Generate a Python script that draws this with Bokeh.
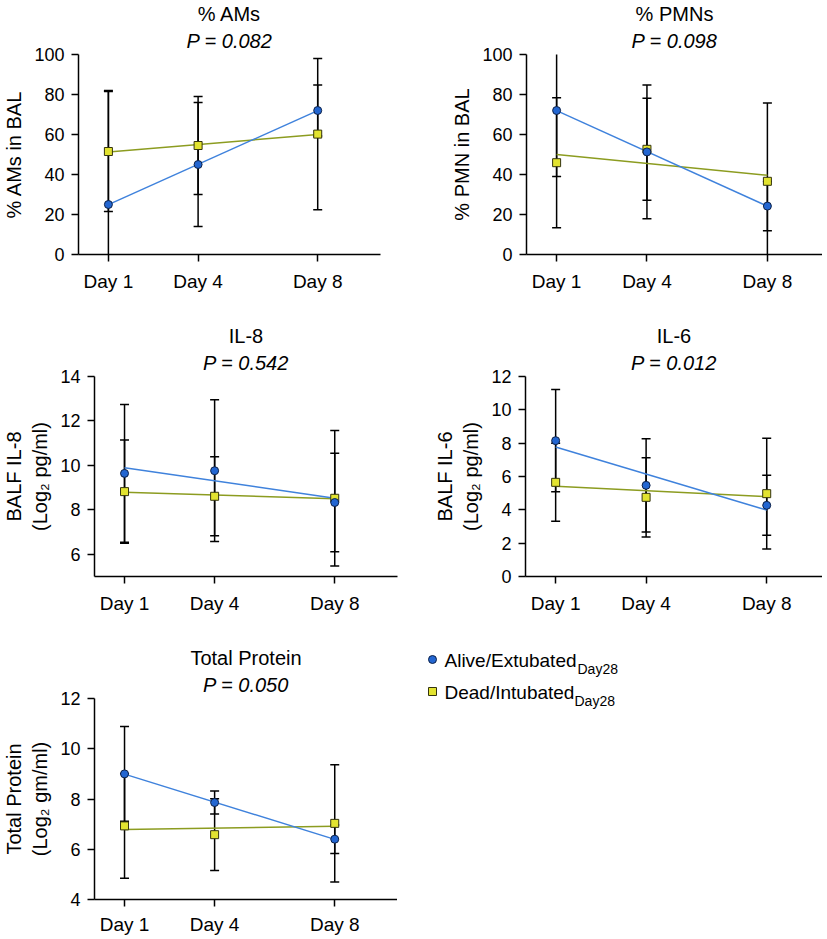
import numpy as np
from bokeh.plotting import figure
from bokeh.models import Range1d, FixedTicker, Title
from bokeh.layouts import row, column
from bokeh.embed import file_html
from bokeh.resources import INLINE
from bokeh.core.properties import value

# ---------------- data ----------------
days = [1, 4, 8]
day_labels = ["Day 1", "Day 4", "Day 8"]

ams_alive = [25.0, 45.0, 72.0]
ams_alive_sd = [57.0, 31.0, 12.7]
ams_dead = [51.5, 54.5, 60.2]
ams_dead_sd = [30.0, 24.5, 37.8]

pmn_alive = [72.0, 51.3, 24.2]
pmn_alive_sd = [33.0, 33.4, 12.3]
pmn_dead = [45.9, 52.6, 36.6]
pmn_dead_sd = [32.5, 25.5, 39.1]

il8_alive = [9.64, 9.76, 8.33]
il8_alive_sd = [3.10, 3.19, 2.22]
il8_dead = [8.82, 8.61, 8.52]
il8_dead_sd = [2.32, 1.78, 3.05]

il6_alive = [8.15, 5.47, 4.27]
il6_alive_sd = [3.07, 2.80, 1.80]
il6_dead = [5.65, 4.75, 4.97]
il6_dead_sd = [2.34, 2.38, 3.32]

prot_alive = [9.00, 7.86, 6.40]
prot_alive_sd = [1.89, 0.46, 0.57]
prot_dead = [6.93, 6.58, 7.03]
prot_dead_sd = [2.08, 1.43, 2.33]

titles = ["% AMs", "% PMNs", "IL-8", "IL-6", "Total Protein"]
pvalues = ["P = 0.082", "P = 0.098", "P = 0.542", "P = 0.012", "P = 0.050"]
ylabels = ["% AMs in BAL", "% PMN in BAL", "BALF IL-8\n(Log\u2082 pg/ml)",
           "BALF IL-6\n(Log\u2082 pg/ml)", "Total Protein\n(Log\u2082 gm/ml)"]
legend_labels = ["Alive/Extubated", "Dead/Intubated"]
legend_sub = "Day28"

# ---------------- style ----------------
FONT = "Liberation Sans"
BLUE_FILL = "#2366d1"
BLUE_EDGE = "#0d2147"
BLUE_LINE = "#3f82dc"
YEL_FILL = "#e2e330"
YEL_EDGE = "#34340e"
YEL_LINE = "#8c9c20"


def no_align(p):
    if "frame_align" in p.properties():
        p.frame_align = False


def make_panel(title, pval, ylabel, alive, alive_sd, dead, dead_sd,
               yr, ytick, xend, fw, fh, bl, bt, bb, br, xstand):
    p = figure(frame_width=fw, frame_height=fh,
               x_range=Range1d(0, xend), y_range=Range1d(*yr),
               output_backend="svg", toolbar_location=None,
               min_border_left=bl, min_border_top=bt,
               min_border_bottom=bb, min_border_right=br)
    no_align(p)
    p.outline_line_color = None
    p.grid.visible = False

    p.xaxis.ticker = FixedTicker(ticks=days)
    p.xaxis.major_label_overrides = {d: l for d, l in zip(days, day_labels)}
    p.yaxis.ticker = FixedTicker(ticks=ytick)
    for ax in (p.xaxis, p.yaxis):
        ax.axis_line_width = 1.5
        ax.axis_line_color = "black"
        ax.major_tick_line_width = 1.5
        ax.major_tick_line_color = "black"
        ax.major_tick_out = 7
        ax.major_tick_in = 0
        ax.minor_tick_out = 0
        ax.minor_tick_in = 0
        ax.major_label_text_font = FONT
        ax.major_label_text_color = "black"
        ax.axis_label_text_font = FONT
        ax.axis_label_text_font_style = "normal"
        ax.axis_label_text_color = "black"
    p.xaxis.major_label_text_font_size = "19px"
    p.yaxis.major_label_text_font_size = "18px"
    p.xaxis.major_label_standoff = xstand
    p.yaxis.major_label_standoff = 7
    p.yaxis.axis_label = ylabel
    p.yaxis.axis_label_text_font_size = "20px"
    p.yaxis.axis_label_standoff = 6

    # error bars (mean +/- SD)
    for m, s in ((dead, dead_sd), (alive, alive_sd)):
        m = np.asarray(m); s = np.asarray(s)
        lo = m - s; hi = m + s
        p.segment(x0=days, y0=lo, x1=days, y1=hi, line_color="black", line_width=1.5)
        p.scatter(days, hi, marker="dash", size=9, line_color="black", line_width=1.5)
        p.scatter(days, lo, marker="dash", size=9, line_color="black", line_width=1.5)

    # fitted trend lines
    xs = [days[0], days[-1]]
    for m, c in ((dead, YEL_LINE), (alive, BLUE_LINE)):
        coef = np.polyfit(days, m, 1)
        p.line(xs, np.polyval(coef, xs), line_color=c, line_width=1.5)

    p.scatter(days, dead, marker="square", size=8, fill_color=YEL_FILL,
              line_color=YEL_EDGE, line_width=1)
    p.scatter(days, alive, marker="circle", size=8, fill_color=BLUE_FILL,
              line_color=BLUE_EDGE, line_width=1)

    p.add_layout(Title(text=pval, align="center", text_font=FONT,
                       text_font_size="20px", text_font_style="italic",
                       text_color="black", standoff=6), "above")
    p.add_layout(Title(text=title, align="center", text_font=FONT,
                       text_font_size="20px", text_font_style="normal",
                       text_color="black", standoff=0), "above")
    return p


t100 = [0, 20, 40, 60, 80, 100]
p1 = make_panel(titles[0], pvalues[0], ylabels[0], ams_alive, ams_alive_sd,
                ams_dead, ams_dead_sd, (0, 100), t100, 10.1,
                302, 200, 72, 51, 46, 10, 9)
p2 = make_panel(titles[1], pvalues[1], ylabels[1], pmn_alive, pmn_alive_sd,
                pmn_dead, pmn_dead_sd, (0, 100), t100, 9.83,
                296, 200, 136, 51, 46, 0, 9)
p3 = make_panel(titles[2], pvalues[2], ylabels[2], il8_alive, il8_alive_sd,
                il8_dead, il8_dead_sd, (5, 14), [6, 8, 10, 12, 14], 10.09,
                303, 200, 88, 76, 46, 8, 9)
p4 = make_panel(titles[3], pvalues[3], ylabels[3], il6_alive, il6_alive_sd,
                il6_dead, il6_dead_sd, (0, 12), [0, 2, 4, 6, 8, 10, 12], 9.85,
                297, 200, 120, 76, 46, 0, 9)
p5 = make_panel(titles[4], pvalues[4], ylabels[4], prot_alive, prot_alive_sd,
                prot_dead, prot_dead_sd, (4, 12), [4, 6, 8, 10, 12], 10.09,
                303, 201, 88, 76, 36, 0, 7)

# legend panel (pixel coordinates measured from its top-left corner)
LW, LH = 424, 300
leg = figure(frame_width=LW, frame_height=LH, x_range=Range1d(0, LW),
             y_range=Range1d(LH, 0), output_backend="svg", toolbar_location=None,
             x_axis_location=None, y_axis_location=None,
             min_border_left=0, min_border_right=0, min_border_top=0,
             min_border_bottom=0)
no_align(leg)
leg.outline_line_color = None
leg.grid.visible = False
leg.scatter([35], [37], marker="circle", size=8, fill_color=BLUE_FILL,
            line_color=BLUE_EDGE, line_width=1)
leg.scatter([35], [69], marker="square", size=8, fill_color=YEL_FILL,
            line_color=YEL_EDGE, line_width=1)
leg.text([47, 47], [38, 70], text=legend_labels, text_font=value(FONT),
         text_font_size="19px", text_baseline="middle", text_color="black")
leg.text([180, 177], [46, 78], text=[legend_sub, legend_sub], text_font=value(FONT),
         text_font_size="14px", text_baseline="middle", text_color="black")

layout = column(row(p1, p2), row(p3, p4), row(p5, leg))
open("out.html", "w").write(file_html(layout, INLINE))
